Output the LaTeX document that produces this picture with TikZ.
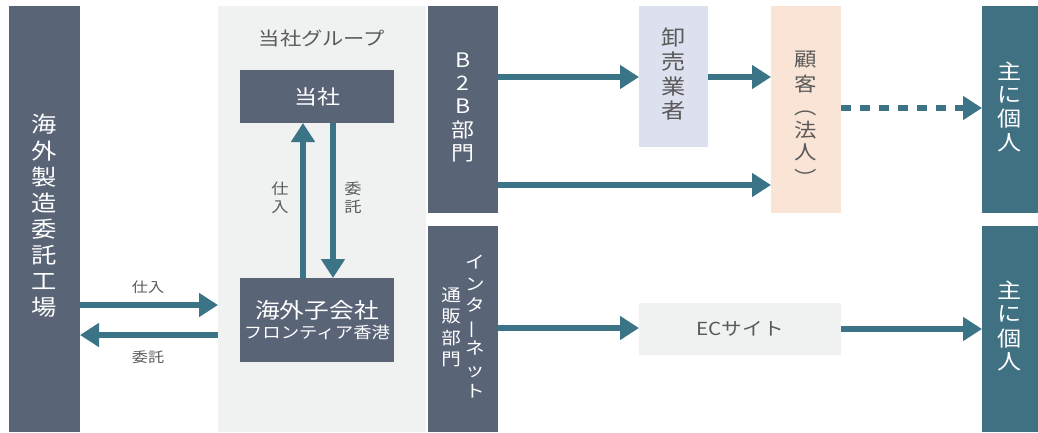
\documentclass[tikz,border=0pt]{standalone}
\usepackage{fontspec}
\setmainfont{Noto Sans CJK JP}[FakeStretch=1.15]
\usepackage{graphicx}
\usetikzlibrary{arrows.meta}
\definecolor{slate}{HTML}{5A6477}
\definecolor{tealbox}{HTML}{3F7183}
\definecolor{arrc}{HTML}{3B7486}
\definecolor{lgray}{HTML}{F0F1F1}
\definecolor{lav}{HTML}{DDE0EE}
\definecolor{peach}{HTML}{F9E4D6}
\definecolor{labc}{HTML}{5A5A5A}
\newcommand{\vcol}[1]{\begin{tabular}[c]{@{}c@{}}#1\end{tabular}}
\newcommand{\vbar}{\rotatebox[origin=c]{90}{ー}}
\begin{document}
\begin{tikzpicture}[x=1pt,y=-1pt,
  box/.style={inner sep=0pt, outer sep=0pt, anchor=north west, text=white, align=center},
  arr/.style={draw=arrc, line width=6pt, -{Triangle[length=19pt,width=23pt]}},
  lbl/.style={text=labc, inner sep=0pt, align=center, font=\fontsize{14}{17}\selectfont}]
\useasboundingbox (0,0) rectangle (1038,432);
% left factory bar
\node[box, fill=slate, minimum width=71pt, minimum height=426pt, font=\fontsize{22}{26}\selectfont] (fact) at (9,6)
  {\vcol{海\\外\\製\\造\\委\\託\\工\\場}};
% group background
\node[box, fill=lgray, minimum width=208pt, minimum height=426pt] (grp) at (218,6) {};
\node[text=labc, font=\fontsize{18.5}{22}\selectfont, inner sep=0pt] (grptitle) at (322,38) {当社グループ};
\node[box, fill=slate, minimum width=154pt, minimum height=53pt, font=\fontsize{20}{24}\selectfont] (hq) at (240,70) {当社};
\node[box, fill=slate, minimum width=154pt, minimum height=84pt] (sub) at (240,278)
  {{\fontsize{21.5}{25}\selectfont 海外子会社}\\[3pt]{\fontsize{16}{19}\selectfont フロンティア香港}};
% B2B and internet
\node[box, fill=slate, minimum width=70pt, minimum height=207pt, font=\fontsize{20}{23}\selectfont] (b2b) at (428,6)
  {\vcol{B\\2\\B\\部\\門}};
\node[box, fill=slate, minimum width=70pt, minimum height=206pt, font=\fontsize{17}{21.5}\selectfont] (net) at (428,226)
  {\vcol{通\\販\\部\\門}\hspace{4pt}\vcol{イ\\ン\\タ\\\vbar\\ネ\\ッ\\ト}};
% wholesalers, customers
\node[box, fill=lav, text=labc, minimum width=69pt, minimum height=141pt, font=\fontsize{21}{22.6}\selectfont] (orosi) at (639,6)
  {\vcol{卸\\売\\業\\者}};
\node[box, fill=peach, text=labc, minimum width=70pt, minimum height=207pt, font=\fontsize{19.5}{22}\selectfont] (kokyaku) at (771,6)
  {\raisebox{-12pt}[\height][\depth]{\vcol{顧\\[2pt]客\\[1pt]︵\\法\\人\\[3pt]︶}}};
\node[box, fill=lgray, text=labc, minimum width=202pt, minimum height=52pt, font=\fontsize{18}{22}\selectfont] (ec) at (639,303) {ECサイト};
% individuals
\node[box, fill=tealbox, minimum width=56pt, minimum height=207pt, font=\fontsize{21}{22.8}\selectfont] (ind1) at (982,6)
  {\vcol{主\\に\\個\\人}};
\node[box, fill=tealbox, minimum width=56pt, minimum height=206pt, font=\fontsize{21}{22.8}\selectfont] (ind2) at (982,226)
  {\vcol{主\\に\\個\\人}};
% arrows: factory <-> group
\draw[arr] (fact.east |- 0,305) -- (grp.west |- 0,305);
\draw[arr] (grp.west |- 0,335) -- (fact.east |- 0,335);
\node[lbl] (l1) at (148,287) {仕入};
\node[lbl] (l2) at (148,357) {委託};
% hq <-> subsidiary
\draw[arr] (sub.north -| 303,0) -- (hq.south -| 303,0);
\draw[arr] (hq.south -| 333,0) -- (sub.north -| 333,0);
\node[lbl, font=\fontsize{15}{18}\selectfont] (l3) at (280,200) {\vcol{仕\\入}};
\node[lbl, font=\fontsize{15}{18}\selectfont] (l4) at (353,200) {\vcol{委\\託}};
% B2B flows
\draw[arr] (b2b.east |- 0,77) -- (orosi.west |- 0,77);
\draw[arr] (orosi.east |- 0,77) -- (kokyaku.west |- 0,77);
\draw[arr] (b2b.east |- 0,185) -- (kokyaku.west |- 0,185);
\draw[arr, dash pattern=on 10pt off 9pt] (kokyaku.east |- 0,108) -- (ind1.west |- 0,108);
% internet flows
\draw[arr] (net.east |- 0,328) -- (ec.west |- 0,328);
\draw[arr] (ec.east |- 0,329) -- (ind2.west |- 0,329);
\end{tikzpicture}
\end{document}
